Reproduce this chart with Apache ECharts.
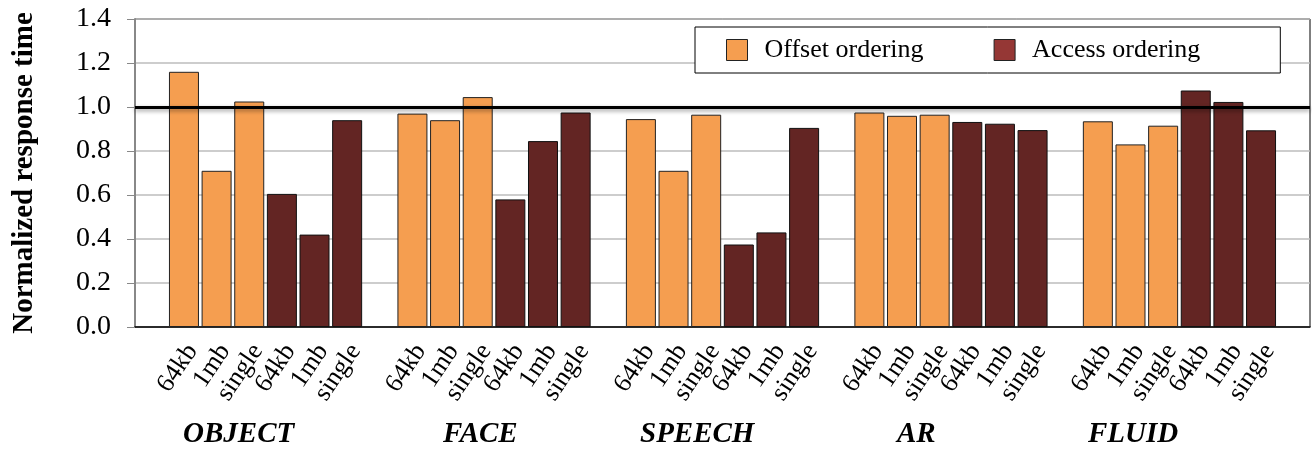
<!DOCTYPE html>
<html>
<head>
<meta charset="utf-8">
<script src="https://cdn.jsdelivr.net/npm/echarts@6/dist/echarts.min.js"></script>
<style>
  html, body { margin: 0; padding: 0; background: #fff; }
  #chart { width: 1312px; height: 449px; }
</style>
</head>
<body>
<div id="chart"></div>
<script>
// workloads and the three chunk settings
var groups = ['OBJECT', 'FACE', 'SPEECH', 'AR', 'FLUID'];
var sizes = ['64kb', '1mb', 'single'];

// normalized response time, per group: [64kb, 1mb, single]
var offsetVals = [
    [1.16, 0.71, 1.025],
    [0.97, 0.94, 1.045],
    [0.945, 0.71, 0.965],
    [0.975, 0.96, 0.965],
    [0.935, 0.83, 0.915]
];
var accessVals = [
    [0.605, 0.42, 0.94],
    [0.58, 0.845, 0.975],
    [0.375, 0.43, 0.905],
    [0.932, 0.924, 0.895],
    [1.075, 1.023, 0.894]
];
var yTicks = [0, 0.2, 0.4, 0.6, 0.8, 1.0, 1.2, 1.4];

var serif = '"Liberation Serif", "Times New Roman", serif';

// build slots: one blank slot before each group, one at the very end
var cats = [], offData = [], accData = [];
groups.forEach(function (g, gi) {
    cats.push('');
    offData.push('-');
    accData.push('-');
    sizes.forEach(function (s, si) {
        cats.push(s);
        offData.push(offsetVals[gi][si]);
        accData.push('-');
    });
    sizes.forEach(function (s, si) {
        cats.push(s);
        offData.push('-');
        accData.push(accessVals[gi][si]);
    });
});
cats.push('');
offData.push('-');
accData.push('-');

var chart = echarts.init(document.getElementById('chart'));

// group names under the tick labels
var groupLeft = [183, 443, 640, 897, 1088];
var groupText = groups.map(function (g, i) {
    return {
        type: 'text',
        left: groupLeft[i],
        top: 420,
        style: {
            text: g,
            font: 'italic bold 29px ' + serif,
            fill: '#000'
        }
    };
});

var option = {
    animation: false,
    grid: {
        left: 135,
        right: 2,
        top: 19,
        bottom: 122,
        show: true,
        borderColor: '#000',
        borderWidth: 1
    },
    legend: {
        left: 695,
        top: 27,
        padding: [10, 80, 10, 31],
        icon: 'rect',
        itemWidth: 21,
        itemHeight: 21,
        itemGap: 70,
        backgroundColor: '#fff',
        borderColor: '#000',
        borderWidth: 1,
        textStyle: {
            fontFamily: serif,
            fontSize: 26,
            color: '#000',
            padding: [0, 0, 0, 12]
        },
        data: [
            { name: 'Offset ordering', itemStyle: { color: '#F59E50', borderColor: '#222', borderWidth: 1 } },
            { name: 'Access ordering', itemStyle: { color: '#953735', borderColor: '#222', borderWidth: 1 } }
        ]
    },
    xAxis: {
        type: 'category',
        data: cats,
        axisLine: { lineStyle: { color: '#000', width: 1.5 } },
        axisTick: { show: false },
        axisLabel: {
            interval: 0,
            rotate: 56,
            margin: 14,
            verticalAlign: 'top',
            lineHeight: 20,
            fontFamily: serif,
            fontSize: 26,
            color: '#000'
        }
    },
    yAxis: {
        type: 'value',
        min: 0,
        max: 1.4,
        interval: 0.2,
        name: 'Normalized response time',
        nameLocation: 'middle',
        nameGap: 96,
        nameTextStyle: {
            fontFamily: serif,
            fontSize: 29,
            fontWeight: 'bold',
            color: '#000'
        },
        axisLine: { show: true, lineStyle: { color: '#888', width: 2 } },
        axisTick: { show: true, length: 8, lineStyle: { color: '#888' } },
        axisLabel: {
            margin: 24,
            fontFamily: serif,
            fontSize: 28,
            color: '#000',
            formatter: function (v) { return yTicks.indexOf(+v.toFixed(1)) >= 0 ? v.toFixed(1) : ''; }
        },
        splitLine: { lineStyle: { color: '#bdbdbd', width: 1.5 } }
    },
    series: [
        {
            name: 'Offset ordering',
            type: 'bar',
            data: offData,
            barWidth: 30,
            barGap: '-100%',
            itemStyle: { color: '#F59E50', borderColor: '#222', borderWidth: 1 },
            markLine: {
                silent: true,
                symbol: 'none',
                label: { show: false },
                lineStyle: {
                    color: '#000',
                    type: 'solid',
                    width: 3,
                    shadowColor: 'rgba(0,0,0,0.4)',
                    shadowBlur: 4,
                    shadowOffsetY: 2
                },
                data: [{ yAxis: 1.0 }]
            },
            z: 2
        },
        {
            name: 'Access ordering',
            type: 'bar',
            data: accData,
            barWidth: 30,
            itemStyle: { color: '#632523', borderColor: '#111', borderWidth: 1 },
            z: 2
        }
    ],
    graphic: groupText
};

chart.setOption(option);
</script>
</body>
</html>
